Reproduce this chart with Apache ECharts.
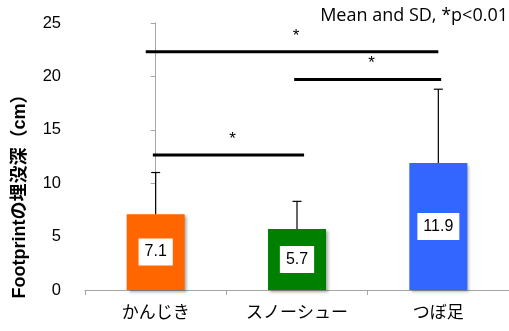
<!DOCTYPE html>
<html>
<head>
<meta charset="utf-8">
<script src="https://cdn.jsdelivr.net/npm/echarts@6/dist/echarts.min.js"></script>
<style>
html,body{margin:0;padding:0;background:#fff;}
#chart{width:509px;height:331px;}
</style>
</head>
<body>
<div id="chart"></div>
<script>
const categories = ['かんじき', 'スノーシュー', 'つぼ足'];
const means = [7.1, 5.7, 11.9];
const sds = [3.9, 2.6, 6.9];
const barColors = ['#FF6600', '#008000', '#3366FF'];
const sigStart = [-0.07, 0.98, -0.02];
const sigEnd = [2.0, 2.02, 1.05];
const sigHeight = [22.3, 19.7, 12.65];
const sigMarks = ['*', '*', '*'];
const yMin = 0, yMax = 25, yStep = 5;
const yTitle = 'Footprintの埋没深（cm）';
const note = 'Mean and SD, *p<0.01';

const chart = echarts.init(document.getElementById('chart'));
const cjk = '"Noto Sans CJK JP", "Liberation Sans", sans-serif';

chart.setOption({
  animation: false,
  backgroundColor: '#fff',
  grid: { left: 85, right: 0, top: 23, bottom: 41 },
  graphic: [{
    type: 'text', right: 1, top: 7,
    style: { text: note, fontSize: 18, fontFamily: '"Open Sans", sans-serif', fill: '#000' }
  }, {
    type: 'text', x: 20, y: 192, rotation: Math.PI / 2,
    style: { text: yTitle, fontSize: 18, fontWeight: 'bold', fontFamily: '"Liberation Sans", "Noto Sans CJK JP", sans-serif',
      fill: '#000', align: 'center', verticalAlign: 'middle' }
  }],
  xAxis: [{
    type: 'category', data: categories,
    axisLine: { lineStyle: { color: '#A6A6A6', width: 1 } },
    axisTick: { show: true, length: 5, lineStyle: { color: '#A6A6A6' } },
    axisLabel: { color: '#000', fontSize: 17, fontFamily: cjk, margin: 13 }
  }, {
    type: 'value', min: -0.5, max: 2.5, show: false
  }],
  yAxis: {
    type: 'value', min: yMin, max: yMax, interval: yStep,
    axisLine: { show: true, lineStyle: { color: '#A6A6A6', width: 1 } },
    axisTick: { show: true, length: 5, lineStyle: { color: '#A6A6A6' } },
    axisLabel: { color: '#000', fontSize: 16.5, fontFamily: '"Liberation Sans", sans-serif', margin: 24 },
    splitLine: { show: false }
  },
  series: [{
    type: 'bar',
    data: means.map((v, i) => ({ value: v, itemStyle: { color: barColors[i] } })),
    barWidth: 58,
    itemStyle: { shadowColor: 'rgba(0,0,0,0.35)', shadowBlur: 3, shadowOffsetX: 2, shadowOffsetY: 2 },
    label: {
      show: true, position: 'inside', backgroundColor: '#fff', color: '#000',
      fontSize: 16, fontFamily: '"Liberation Sans", sans-serif', padding: [6, 6, 5, 6]
    },
    z: 2
  }, {
    type: 'custom',
    data: means.map((v, i) => [i, v, v + sds[i]]),
    renderItem: function (params, api) {
      const p0 = api.coord([api.value(0), api.value(1)]);
      const p1 = api.coord([api.value(0), api.value(2)]);
      return {
        type: 'group',
        children: [
          { type: 'line', shape: { x1: p0[0], y1: p0[1], x2: p1[0], y2: p1[1] }, style: { stroke: '#000', lineWidth: 1.2 } },
          { type: 'line', shape: { x1: p1[0] - 4.5, y1: p1[1], x2: p1[0] + 4.5, y2: p1[1] }, style: { stroke: '#000', lineWidth: 1.2 } }
        ]
      };
    },
    z: 1
  }, {
    type: 'custom',
    xAxisIndex: 1,
    data: sigStart.map((s, i) => [s, sigEnd[i], sigHeight[i], i]),
    renderItem: function (params, api) {
      const a = api.coord([api.value(0), api.value(2)]);
      const b = api.coord([api.value(1), api.value(2)]);
      const mark = sigMarks[api.value(3)];
      return {
        type: 'group',
        children: [
          { type: 'line', shape: { x1: a[0], y1: a[1], x2: b[0], y2: b[1] }, style: { stroke: '#000', lineWidth: 3 } },
          { type: 'text', x: (a[0] + b[0]) / 2 + 4, y: a[1] - 16,
            style: { text: mark, fontSize: 17, fontFamily: '"Liberation Sans", sans-serif', fill: '#000', align: 'center', verticalAlign: 'middle' } }
        ]
      };
    },
    z: 3
  }]
});
</script>
</body>
</html>
